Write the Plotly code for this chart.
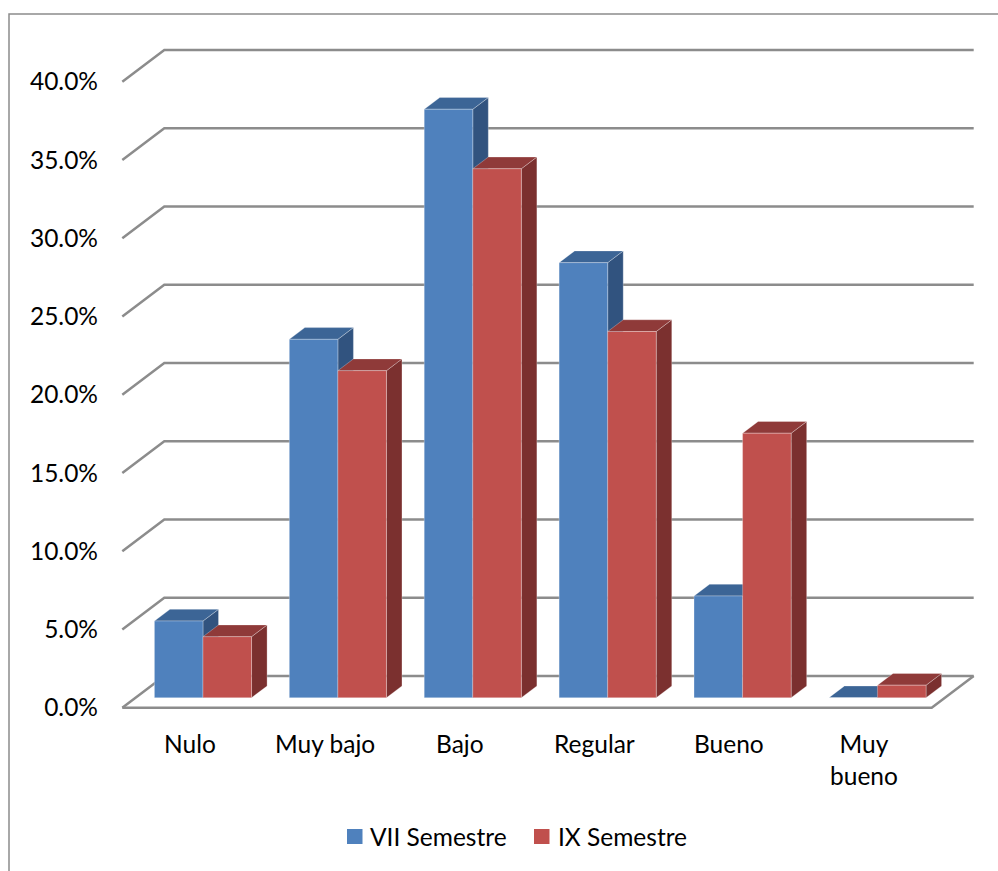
import plotly.graph_objects as go

# ---- data -------------------------------------------------------------
categories = ["Nulo", "Muy bajo", "Bajo", "Regular", "Bueno", "Muy<br>bueno"]
vii_semestre = [4.9, 22.9, 37.6, 27.8, 6.5, 0.0]
ix_semestre = [3.9, 20.9, 33.8, 23.4, 16.9, 0.8]
series_names = ["VII Semestre", "IX Semestre"]
y_ticks = [0, 5, 10, 15, 20, 25, 30, 35, 40]
y_tick_labels = [f"{v:.1f}%" for v in y_ticks]

# ---- page / projection settings ---------------------------------------
W, H = 998, 871
ML = 103                 # left margin holding the value labels
PX_PER_CAT = 134.9       # horizontal pixels per category slot
PX_PER_PCT = 15.65       # vertical pixels per percentage point
X_FLOOR0 = 122.3         # pixel x of the front-left floor corner
Y_FLOOR0 = 707.7         # pixel y of the front floor edge
DEPTH_X = 42 / PX_PER_CAT    # oblique offset of the back wall (category units)
DEPTH_Y = 31.7 / PX_PER_PCT  # oblique offset of the back wall (percent units)
BAR_W = 0.36             # width of one bar in category units
BAR_D0, BAR_D1 = 0.315, 0.685  # depth span of the bars (0 = front, 1 = back)

FONT = "Lato, 'Open Sans', sans-serif"
FONT_SIZE = 24.5
GRID = "#8c8c8c"
COLORS = {
    "front": ["#4f81bd", "#c0504d"],
    "top": ["#3c6596", "#8f3a39"],
    "side": ["#31537f", "#7b302f"],
}

n = len(categories)


def proj(x, v, d):
    """Oblique projection of (category x, value v, depth d) onto the axes."""
    return x + d * DEPTH_X, v + d * DEPTH_Y


def px_to_paper(px, py):
    return (px - ML) / (W - ML), (H - py) / H


fig = go.Figure()

# ---- walls: value gridlines (left side + back wall) and the floor -----
gx, gy = [], []
for v in y_ticks:
    for pt in (proj(0, v, 0), proj(0, v, 1), proj(n, v, 1)):
        gx.append(pt[0])
        gy.append(pt[1])
    gx.append(None)
    gy.append(None)
for pt in (proj(0, 0, 0), proj(n, 0, 0), proj(n, 0, 1)):
    gx.append(pt[0])
    gy.append(pt[1])
fig.add_trace(go.Scatter(x=gx, y=gy, mode="lines", line=dict(color=GRID, width=2.5),
                         hoverinfo="skip", showlegend=False))

# ---- 3D columns --------------------------------------------------------
for s, values in enumerate([vii_semestre, ix_semestre]):
    faces = {"side": ([], []), "top": ([], []), "front": ([], [])}
    for i, v in enumerate(values):
        x0 = i + 0.5 + (s - 1) * BAR_W
        x1 = x0 + BAR_W
        polys = {
            "front": [(x0, 0, BAR_D0), (x1, 0, BAR_D0), (x1, v, BAR_D0), (x0, v, BAR_D0)],
            "top": [(x0, v, BAR_D0), (x1, v, BAR_D0), (x1, v, BAR_D1), (x0, v, BAR_D1)],
            "side": [(x1, 0, BAR_D0), (x1, 0, BAR_D1), (x1, v, BAR_D1), (x1, v, BAR_D0)],
        }
        for face, pts in polys.items():
            fx, fy = faces[face]
            for p in pts + [pts[0]]:
                X, Y = proj(*p)
                fx.append(X)
                fy.append(Y)
            fx.append(None)
            fy.append(None)
    for face in ("side", "top", "front"):
        fx, fy = faces[face]
        fig.add_trace(go.Scatter(
            x=fx, y=fy, mode="lines", fill="toself",
            fillcolor=COLORS[face][s],
            line=dict(color="rgba(255,255,255,0.35)", width=0.8),
            hoverinfo="skip", showlegend=False, name=series_names[s]))

# ---- category labels ---------------------------------------------------
for i, cat in enumerate(categories):
    fig.add_annotation(x=i + 0.5, y=(Y_FLOOR0 - 727) / PX_PER_PCT, text=cat,
                       showarrow=False, xanchor="center", yanchor="top",
                       font=dict(family=FONT, size=FONT_SIZE, color="#000000"))

# ---- legend ------------------------------------------------------------
legend_pos = [(347, 368), (534, 556)]
for s, (sq_x, tx) in enumerate(legend_pos):
    a0 = px_to_paper(sq_x, 844)
    a1 = px_to_paper(sq_x + 15.5, 829)
    fig.add_shape(type="rect", xref="paper", yref="paper",
                  x0=a0[0], y0=a0[1], x1=a1[0], y1=a1[1],
                  fillcolor=COLORS["front"][s], line=dict(width=0))
    t = px_to_paper(tx, 836.5)
    fig.add_annotation(xref="paper", yref="paper", x=t[0], y=t[1], text=series_names[s],
                       showarrow=False, xanchor="left", yanchor="middle",
                       font=dict(family=FONT, size=FONT_SIZE, color="#000000"))

# ---- chart frame ----------------------------------------------------------
b0 = px_to_paper(9, H + 10)
b1 = px_to_paper(9, 14)
b2 = px_to_paper(W + 10, 14)
fig.add_shape(type="path", xref="paper", yref="paper",
              path=f"M {b0[0]} {b0[1]} L {b1[0]} {b1[1]} L {b2[0]} {b2[1]}",
              line=dict(color="#8c8c8c", width=1.5))

fig.update_layout(
    width=W, height=H,
    margin=dict(l=ML, r=0, t=0, b=0),
    paper_bgcolor="white", plot_bgcolor="white",
    showlegend=False,
    xaxis=dict(range=[(ML - X_FLOOR0) / PX_PER_CAT, (W - X_FLOOR0) / PX_PER_CAT],
               visible=False, fixedrange=True),
    yaxis=dict(range=[(Y_FLOOR0 - H) / PX_PER_PCT, Y_FLOOR0 / PX_PER_PCT],
               tickmode="array", tickvals=y_ticks, ticktext=y_tick_labels,
               showgrid=False, zeroline=False, showline=False, ticks="",
               ticklabelstandoff=4,
               tickfont=dict(family=FONT, size=FONT_SIZE, color="#000000"),
               fixedrange=True),
)

fig.write_html("out.html")
